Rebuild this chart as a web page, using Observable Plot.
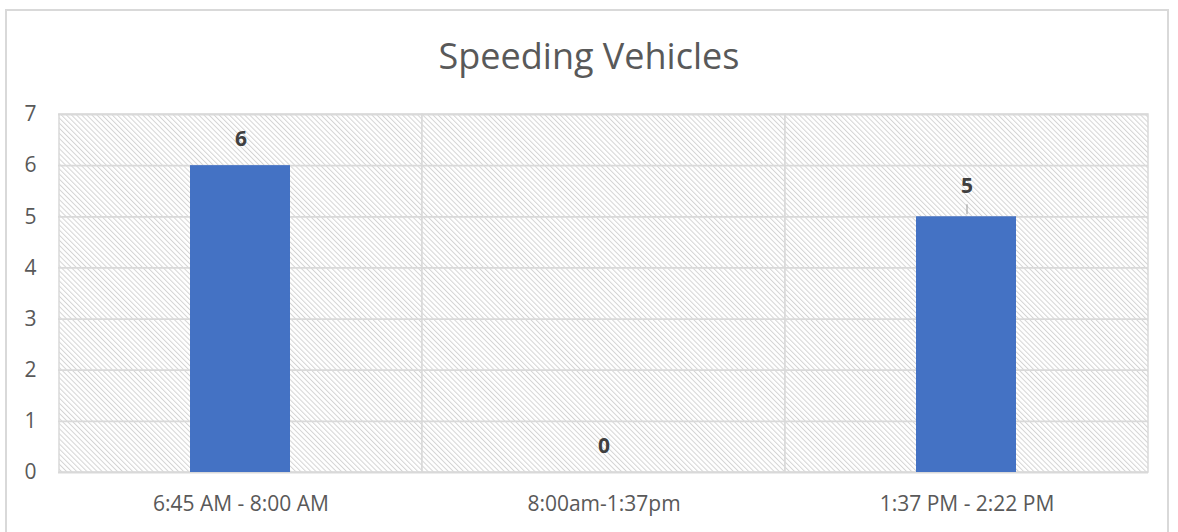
<!DOCTYPE html>
<html>
<head>
<meta charset="utf-8">
<script src="https://cdn.jsdelivr.net/npm/d3@7"></script>
<script src="https://cdn.jsdelivr.net/npm/@observablehq/plot@0.6"></script>
<style>
  html, body { margin: 0; padding: 0; background: #fff; }
  body { width: 1178px; height: 532px; overflow: hidden; position: relative; font-family: "Open Sans", sans-serif; }
  #frame { position: absolute; left: 5px; top: 9px; width: 1164px; height: 600px; border: 2px solid #d9d9d9; box-sizing: border-box; }
  #title { position: absolute; left: 0; top: 0; width: 1178px; height: 90px; text-align: center; line-height: 112px; font-size: 36px; color: #595959; }
  #chart { position: absolute; left: 0; top: 90px; }
</style>
</head>
<body>
<div id="frame"></div>
<div id="title">Speeding Vehicles</div>
<div id="chart"></div>
<script>
const categories = ["6:45 AM - 8:00 AM", "8:00am-1:37pm", "1:37 PM - 2:22 PM"];
const speeding = [6, 0, 5];
const yTicks = [0, 1, 2, 3, 4, 5, 6, 7];
const leaderCategories = ["1:37 PM - 2:22 PM"];

const data = categories.map((c, i) => ({category: c, value: speeding[i]}));
const leaders = data.filter(d => leaderCategories.includes(d.category));
const plain = data.filter(d => !leaderCategories.includes(d.category));

const defs = () => {
  const d = d3.create("svg:defs");
  const p = d.append("pattern")
    .attr("id", "hatch")
    .attr("patternUnits", "userSpaceOnUse")
    .attr("width", 3.6)
    .attr("height", 3.6)
    .attr("patternTransform", "rotate(-45)");
  p.append("rect").attr("width", 3.6).attr("height", 3.6).attr("fill", "#fff");
  p.append("line").attr("x1", 0.5).attr("x2", 0.5).attr("y1", 0).attr("y2", 3.6)
    .attr("stroke", "#d4d4d4").attr("stroke-width", 1);
  return d.node();
};

const labelStyle = {fontSize: 21, fontWeight: "bold", fill: "#404040"};

const chart = Plot.plot({
  width: 1178,
  height: 442,
  marginTop: 24,
  marginBottom: 60,
  marginLeft: 58,
  marginRight: 30,
  style: {fontFamily: "Open Sans, sans-serif", background: "transparent", fontSize: "21px"},
  x: {domain: categories, padding: 0, label: null},
  y: {domain: [0, 7], label: null},
  marks: [
    defs,
    Plot.barY(categories, {x: d => d, y1: 0, y2: 7, fill: "url(#hatch)", stroke: "#d9d9d9", strokeWidth: 1.5}),
    Plot.ruleY(yTicks, {stroke: "#d9d9d9", strokeWidth: 1.8}),
    Plot.barY(data, {x: "category", y: "value", fill: "#4472c4", insetLeft: 131, insetRight: 132}),
    Plot.ruleX(leaders, {x: "category", y1: "value", y2: "value", insetTop: -12, insetBottom: 2, stroke: "#a6a6a6", strokeWidth: 1.2}),
    Plot.text(plain, {x: "category", y: "value", text: d => String(d.value), dy: -26, ...labelStyle}),
    Plot.text(leaders, {x: "category", y: "value", text: d => String(d.value), dy: -31, ...labelStyle}),
    Plot.axisY(yTicks, {tickSize: 0, tickPadding: 22, fontSize: 21, tickFormat: "d", color: "#595959", label: null}),
    Plot.axisX({tickSize: 0, tickPadding: 24, fontSize: 21, color: "#595959", label: null})
  ]
});
document.getElementById("chart").appendChild(chart);
</script>
</body>
</html>
